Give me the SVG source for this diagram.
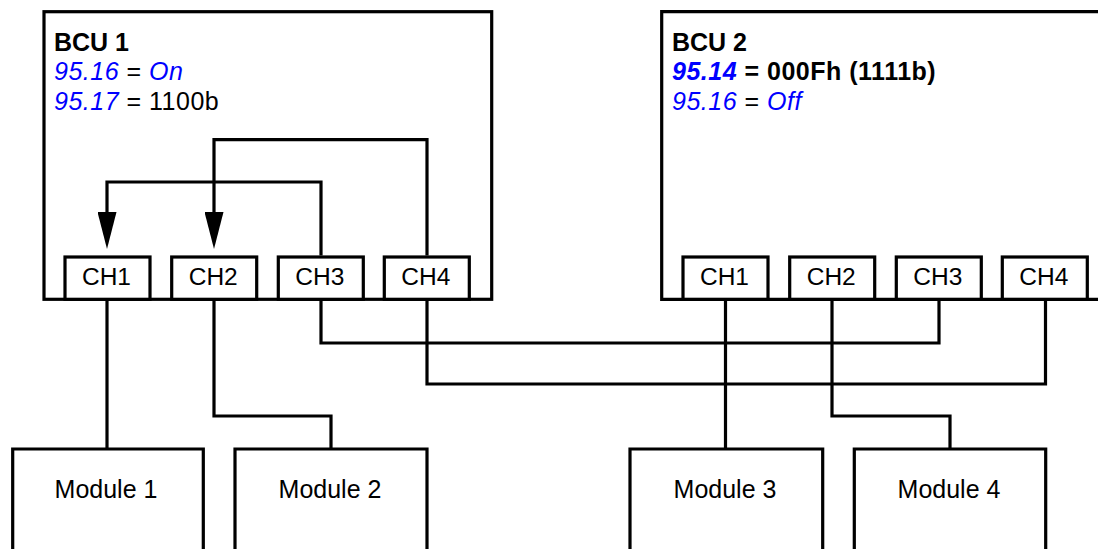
<svg xmlns="http://www.w3.org/2000/svg" width="1098" height="549" viewBox="0 0 1098 549">
<style>
.box{fill:#fff;stroke:#000;stroke-width:3.2}
.open{fill:none;stroke:#000;stroke-width:3.2}
.wire{fill:none;stroke:#000;stroke-width:3.2;stroke-linejoin:miter}
text{font-family:"Liberation Sans",Arial,sans-serif;font-size:25px;fill:#000}
.hdr{letter-spacing:0.5px}
.b{font-weight:bold}
.p{fill:#0000ff;font-style:italic}
.c{text-anchor:middle}
.ch{font-size:24.5px}
</style>
<defs>
<marker id="arrow" markerUnits="userSpaceOnUse" markerWidth="37" markerHeight="19" viewBox="0 0 37 19" refX="0" refY="9.5" orient="auto">
<path d="M0,0 L37,9.5 L0,19 z" fill="#000"/>
</marker>
</defs>
<rect width="1098" height="549" fill="#fff"/>

<g id="bcu1">
<rect class="box" x="44" y="11.7" width="447.7" height="287.6"/>
<text class="b" x="54" y="50.5">BCU 1</text>
<text class="hdr" x="54" y="80"><tspan class="p">95.16</tspan> = <tspan class="p">On</tspan></text>
<text class="hdr" x="54" y="110"><tspan class="p">95.17</tspan> = 1100b</text>
</g>
<g id="bcu1-ch1"><rect class="box" x="65" y="257" width="85" height="42.3"/><text class="c ch" x="106.5" y="285">CH1</text></g>
<g id="bcu1-ch2"><rect class="box" x="171.7" y="257" width="85" height="42.3"/><text class="c ch" x="213.2" y="285">CH2</text></g>
<g id="bcu1-ch3"><rect class="box" x="278.3" y="257" width="85" height="42.3"/><text class="c ch" x="319.8" y="285">CH3</text></g>
<g id="bcu1-ch4"><rect class="box" x="384.3" y="257" width="85" height="42.3"/><text class="c ch" x="425.8" y="285">CH4</text></g>

<g id="bcu2">
<path class="box" d="M1110,11.7 H661.7 V299.3 H1110"/>
<text class="b" x="672" y="50.5">BCU 2</text>
<text class="hdr b" x="672" y="80"><tspan class="p">95.14</tspan> = 000Fh (1111b)</text>
<text class="hdr" x="672" y="110"><tspan class="p">95.16</tspan> = <tspan class="p">Off</tspan></text>
</g>
<g id="bcu2-ch1"><rect class="box" x="683" y="257" width="85" height="42.3"/><text class="c ch" x="724.5" y="285">CH1</text></g>
<g id="bcu2-ch2"><rect class="box" x="789.7" y="257" width="85" height="42.3"/><text class="c ch" x="831.2" y="285">CH2</text></g>
<g id="bcu2-ch3"><rect class="box" x="896.3" y="257" width="85" height="42.3"/><text class="c ch" x="937.8" y="285">CH3</text></g>
<g id="bcu2-ch4"><rect class="box" x="1002.3" y="257" width="85" height="42.3"/><text class="c ch" x="1043.8" y="285">CH4</text></g>

<g id="module1"><path class="open" d="M12.7,555 V449 H203.3 V555"/><text class="c" x="106" y="498">Module 1</text></g>
<g id="module2"><path class="open" d="M235,555 V449 H427 V555"/><text class="c" x="330" y="498">Module 2</text></g>
<g id="module3"><path class="open" d="M630,555 V449 H822.7 V555"/><text class="c" x="725" y="498">Module 3</text></g>
<g id="module4"><path class="open" d="M854.3,555 V449 H1045.7 V555"/><text class="c" x="949" y="498">Module 4</text></g>

<g id="connectors">
<path class="wire" d="M321,255.5 V182 H107 V212" marker-end="url(#arrow)"/>
<path class="wire" d="M427,255.5 V139.7 H214 V212" marker-end="url(#arrow)"/>
<path class="wire" d="M107,300 V449"/>
<path class="wire" d="M214,300 V416 H331 V449"/>
<path class="wire" d="M321,300 V343 H939 V300"/>
<path class="wire" d="M427,300 V384 H1045.5 V300"/>
<path class="wire" d="M725.5,300 V449"/>
<path class="wire" d="M832,300 V416 H950 V449"/>
</g>
</svg>
